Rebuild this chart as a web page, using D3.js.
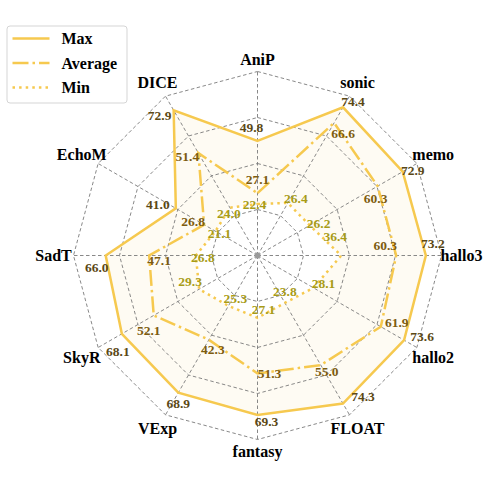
<!DOCTYPE html>
<html>
<head>
<meta charset="utf-8">
<script src="https://cdn.jsdelivr.net/npm/d3@7/dist/d3.min.js"></script>
<style>
  body { margin: 0; background: #fff; }
</style>
</head>
<body>
<div id="chart"></div>
<script>
// data
var categories = ["AniP", "sonic", "memo", "hallo3", "hallo2", "FLOAT", "fantasy", "VExp", "SkyR", "SadT", "EchoM", "DICE"];
var maxValues = [49.8, 74.4, 72.9, 73.2, 73.6, 74.3, 69.3, 68.9, 68.1, 66.0, 41.0, 72.9];
var avgValues = [27.1, 66.6, 60.3, 60.3, 61.9, 55.0, 51.3, 42.3, 52.1, 47.1, 26.8, 51.4];
var minValues = [22.4, 26.4, 26.2, 36.4, 28.1, 23.8, 27.1, 25.3, 29.3, 26.8, 21.1, 24.0];
var seriesNames = ["Max", "Average", "Min"];
var gridTicks = [20, 40, 60, 80];

// layout
var width = 488, height = 488;
var cx = 257.5, cy = 255.5, R = 184;
var lineColor = "#f6c94f";
var serif = "'Liberation Serif', 'Times New Roman', serif";
// small offsets of the value labels from their points (px)
var labelNudge = {
    Max: [[-6,-14],[10,-6],[10,-1],[7,-12],[18,-4],[20,-7],[9,6],[0,11],[-4,17],[-9,12],[-18,-4],[-14,5]],
    Average: [[0,-14],[9,10],[-2,12],[-11,-10],[16,-4],[6,6],[12,0],[4,10],[-5,15],[10,5],[-11,-3],[-11,3]],
    Min: [[-3,0],[8,-5],[9,-2],[-6,-19],[10,-5],[0,-12],[6,-9],[7,-8],[-9,-8],[7,2],[4,2],[-1,6]]
};

var series = [
    { name: "Max", values: maxValues, dash: null, labelColor: "#5b4815" },
    { name: "Average", values: avgValues, dash: "16,4,2.5,4", labelColor: "#7d5c0f" },
    { name: "Min", values: minValues, dash: "2.5,4.1", labelColor: "#a89b17" }
];

var r = d3.scaleLinear().domain([0, 80]).range([0, R]);
var step = 2 * Math.PI / categories.length;
function ang(i) { return i * step; }
function px(i, v) { return cx + r(v) * Math.sin(ang(i)); }
function py(i, v) { return cy - r(v) * Math.cos(ang(i)); }

var svg = d3.select("#chart").append("svg")
    .attr("width", width)
    .attr("height", height)
    .attr("font-family", serif)
    .attr("font-weight", "bold");

var radial = d3.lineRadial()
    .angle(function (d, i) { return ang(i); })
    .radius(function (d) { return r(d); })
    .curve(d3.curveLinearClosed);

var g = svg.append("g").attr("transform", "translate(" + cx + "," + cy + ")");

// fill between min and max
g.append("path")
    .attr("d", radial(maxValues) + radial(minValues))
    .attr("fill", lineColor)
    .attr("fill-opacity", 0.07)
    .attr("fill-rule", "evenodd");

// grid rings
g.selectAll(".ring")
    .data(gridTicks)
    .enter().append("path")
    .attr("class", "ring")
    .attr("d", function (t) { return radial(categories.map(function () { return t; })); })
    .attr("fill", "none")
    .attr("stroke", "#7a7a7a")
    .attr("stroke-width", 0.9)
    .attr("stroke-dasharray", "3.5,2.5");

// spokes
g.selectAll(".spoke")
    .data(categories)
    .enter().append("line")
    .attr("class", "spoke")
    .attr("x1", 0).attr("y1", 0)
    .attr("x2", function (d, i) { return r(80) * Math.sin(ang(i)); })
    .attr("y2", function (d, i) { return -r(80) * Math.cos(ang(i)); })
    .attr("stroke", "#7a7a7a")
    .attr("stroke-width", 0.9)
    .attr("stroke-dasharray", "3.5,2.5");

g.append("circle").attr("r", 3).attr("fill", "#9a9a9a");

// series lines
series.forEach(function (s) {
    g.append("path")
        .attr("d", radial(s.values))
        .attr("fill", "none")
        .attr("stroke", lineColor)
        .attr("stroke-width", 2.5)
        .attr("stroke-linejoin", "miter")
        .attr("stroke-dasharray", s.dash);
});

// value labels
series.forEach(function (s) {
    svg.append("g").selectAll("text")
        .data(s.values)
        .enter().append("text")
        .attr("x", function (d, i) { return px(i, d) + labelNudge[s.name][i][0]; })
        .attr("y", function (d, i) { return py(i, d) + labelNudge[s.name][i][1]; })
        .attr("dy", "0.35em")
        .attr("text-anchor", "middle")
        .style("font-family", serif)
        .style("font-size", "13.5px")
        .style("fill", s.labelColor)
        .text(function (d) { return d.toFixed(1); });
});

// category labels
svg.append("g").selectAll("text")
    .data(categories)
    .enter().append("text")
    .attr("x", function (d, i) { return cx + (196 + 8 * Math.abs(Math.sin(ang(i)))) * Math.sin(ang(i)); })
    .attr("y", function (d, i) { return cy - (196 + 8 * Math.abs(Math.sin(ang(i)))) * Math.cos(ang(i)); })
    .attr("dy", "0.35em")
    .attr("text-anchor", "middle")
    .style("font-family", serif)
    .style("font-size", "16px")
    .style("fill", "#000")
    .text(function (d) { return d; });

// legend
var legend = svg.append("g");
legend.append("rect")
    .attr("x", 7).attr("y", 26)
    .attr("width", 120).attr("height", 77)
    .attr("rx", 3)
    .attr("fill", "#fff")
    .attr("stroke", "#d5d5d5")
    .attr("stroke-width", 1);

var ly = d3.scalePoint().domain(seriesNames).range([38.5, 87.5]);
series.forEach(function (s) {
    legend.append("line")
        .attr("x1", 12.5).attr("x2", 49.5)
        .attr("y1", ly(s.name)).attr("y2", ly(s.name))
        .attr("stroke", lineColor)
        .attr("stroke-width", 2.5)
        .attr("stroke-dasharray", s.dash);
    legend.append("text")
        .attr("x", 61.5)
        .attr("y", ly(s.name))
        .attr("dy", "0.35em")
        .style("font-family", serif)
        .style("font-size", "16px")
        .style("fill", "#000")
        .text(s.name);
});
</script>
</body>
</html>
